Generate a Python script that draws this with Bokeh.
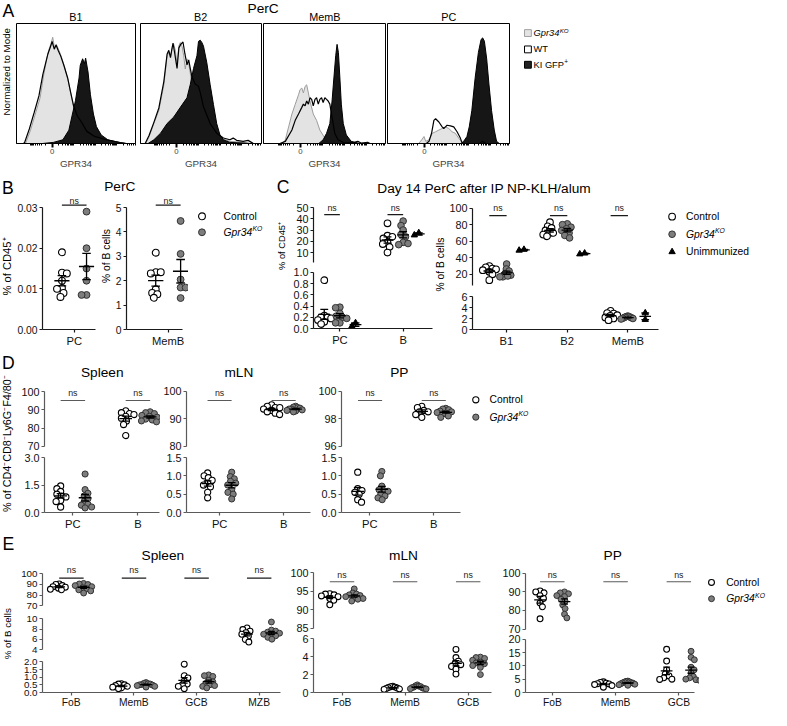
import math
import numpy as np
from bokeh.plotting import figure
from bokeh.models import Range1d, LinearAxis, FixedTicker, Label, PrintfTickFormatter
from bokeh.layouts import row, column
from bokeh.embed import file_html
from bokeh.resources import INLINE
from bokeh.core.properties import value

# ---------------- data ----------------
# Panel A: GPR34 histograms (x: position on GPR34 axis 0-100, y: % of mode scale)
B1_KO_X = [6, 8, 12, 16, 20, 23, 25, 27, 29.5, 30.5, 32, 33.5, 35.5, 37.5, 40, 43, 45.5, 48, 51, 55, 59, 65.5, 76, 87, 92, 96]
B1_KO_Y = [0, 0.8, 11.5, 25, 38.5, 57.5, 68, 77.5, 85, 89, 80, 83, 78.5, 73.5, 65.5, 54.5, 42.5, 30.5, 22.5, 17, 10, 6, 3.5, 1, 0.3, 0]
B1_WT_X = [5, 7, 11, 15, 19, 22.3, 24.5, 26.5, 29, 30, 31.8, 33.3, 35.3, 37.3, 40, 43, 45.5, 48, 51, 55, 59, 65.5, 76, 87, 92, 96]
B1_WT_Y = [0, 1, 12.5, 26, 40, 58, 67, 75, 82, 85.5, 79, 82.5, 77.5, 73, 65, 55, 43, 31.5, 23.5, 17.5, 10.5, 6.3, 3.3, 1.2, 0.4, 0]
B1_GFP_X = [20, 23, 31, 39, 44, 47, 49.5, 52.5, 53.5, 55.5, 57, 58, 60, 62, 64.5, 67, 71, 76.5, 87, 92.5, 96]
B1_GFP_Y = [0, 0.5, 1.3, 3.5, 11.5, 25, 36, 55, 65.5, 71, 67, 71.5, 60, 41, 25, 14.5, 7.5, 3.5, 1, 0.3, 0]

B2_KO_X = [4.5, 7.4, 11.4, 15.5, 19.6, 22.3, 23.7, 25.1, 26.4, 27.8, 29.2, 30.5, 31.9, 33.2, 34.6, 36, 37.3, 38.7, 40.1, 41.4, 42.8, 45.5, 48.2, 52.3, 57.8, 65.9, 74.1, 85, 91.8, 95]
B2_KO_Y = [0, 6, 17, 28, 49, 73.5, 76, 73.5, 79, 83, 77.5, 65.5, 81.5, 84.5, 81.5, 73.5, 62.5, 71, 67, 59, 49, 41, 30.5, 19.5, 11.5, 5, 2.2, 1.3, 0.3, 0]
B2_WT_X = [4, 7.4, 11.4, 15.5, 19.6, 22.3, 23.7, 25.1, 26.4, 27.2, 28.5, 30.5, 32, 33.5, 35.4, 37, 38.7, 40.1, 41.4, 42.8, 45.5, 48.2, 49.6, 52.3, 57.8, 63.2, 68.7, 74.1, 76.8, 79.6, 85, 89.1, 93.2, 96]
B2_WT_Y = [0, 7, 18, 30, 52, 75, 78, 72, 80, 84, 76, 63, 80, 83, 85, 75, 66, 70, 63, 56, 50, 48, 43, 31, 17, 9, 5, 3.5, 4.9, 3, 2.2, 3, 0.5, 0]
B2_GFP_X = [6, 11.4, 16.9, 22.3, 27.8, 33.2, 38.7, 41.4, 44.1, 46.9, 48.2, 49.6, 51, 52.3, 55, 57.8, 60.5, 63.2, 65.9, 68.7, 74.1, 85, 93, 96]
B2_GFP_Y = [0, 3.5, 9, 17, 22.5, 30.5, 38.5, 49.5, 63, 73.5, 85.5, 86.5, 84.5, 81.5, 68, 49.5, 33, 17, 7.5, 3.5, 1.3, 0.8, 0.2, 0]

MB_KO_X = [14.9, 17.6, 20.3, 23, 25.7, 28.4, 29.7, 31.1, 32.4, 33.8, 35.1, 36.5, 37.8, 40.5, 43.2, 45.9, 50, 52.7, 55.4, 58.1]
MB_KO_Y = [0, 3.5, 14.3, 25, 33, 41, 45.3, 46.6, 42.5, 48, 49.3, 42.5, 35.8, 25, 19.7, 11.6, 4.9, 2.2, 0.8, 0]
MB_WT_X = [12.2, 17.6, 23, 25.7, 28.4, 31.1, 32.4, 33.8, 35.1, 36.5, 37.8, 39.2, 40.5, 41.9, 43.2, 44.6, 45.9, 47.3, 48.6, 50, 51.4, 52.7, 54.1, 55.4, 56.8, 58.1, 60.8, 66.2, 74.3, 77, 79.7, 85.1, 87.8]
MB_WT_Y = [0, 2.2, 11.6, 19.7, 25, 30.5, 33.2, 31.8, 35.8, 33.2, 38.5, 37.2, 31.8, 37.2, 38.5, 33.2, 37.2, 38.5, 34.5, 38.5, 37.2, 35.8, 33.2, 25, 17, 9, 3.5, 0.8, 1.3, 2.2, 0.8, 1.3, 0]
MB_GFP_X = [44.6, 48.6, 51.4, 54.1, 55.9, 57.6, 58.9, 60, 61.1, 62.2, 63.5, 65.1, 67.6, 71.6, 77, 82.4]
MB_GFP_Y = [0, 3.5, 8.9, 17, 35.8, 57.4, 73.6, 83, 76.3, 57.4, 33.2, 17, 7.5, 2.2, 0.8, 0]

PC_KO_X = [25.1, 27.8, 29.7, 31.1, 33.8, 36.5, 39.2, 41.9, 44.6, 47.3, 50, 52.7, 55.4, 58.1, 60.8, 63.5]
PC_KO_Y = [0, 3.5, 6.2, 2.2, 3.5, 8.9, 10.2, 11.6, 12.9, 14.3, 12.9, 10.2, 8.9, 4.9, 1.3, 0]
PC_WT_X = [31.1, 33.8, 35.9, 37.8, 39.2, 41.9, 44.6, 45.9, 47.3, 48.6, 51.4, 54.1, 56.8, 59.5, 60.8, 62.2, 75, 77.5, 79.7, 81]
PC_WT_Y = [0, 2.2, 8.9, 19.7, 21, 18.3, 14.3, 12.9, 14.3, 15.6, 15.1, 14.3, 10.2, 4.9, 1.3, 0, 0, 2.2, 1, 0]
PC_GFP_X = [59.5, 62.2, 64.9, 66.8, 68.9, 71.6, 74.3, 76.5, 77.8, 79.2, 81.1, 83, 85.1, 87.3, 89.2, 91.9]
PC_GFP_Y = [0, 2.2, 6.2, 14.3, 27.8, 54.7, 76.3, 87.1, 88.4, 85.7, 70.9, 49.3, 27.8, 11.6, 2.2, 0]

# Panel B: PerC
B_PC_CATS = ["PC"]
B_PC_CTRL = [[0.019, 0.0140, 0.0138, 0.0120, 0.0102, 0.0100, 0.0090, 0.0080]]
B_PC_KO = [[0.029, 0.020, 0.015, 0.012, 0.0085, 0.0085]]
B_MEMB_CATS = ["MemB"]
B_MEMB_CTRL = [[3.15, 2.35, 2.35, 2.3, 1.65, 1.5, 1.45, 1.3]]
B_MEMB_KO = [[4.45, 3.1, 2.05, 1.72, 1.72, 1.29]]

# Panel C: day 14 PerC
C_CD45_CATS = ["PC", "B"]
C_CD45_CTRL = [[0.86, 0.23, 0.2, 0.2, 0.18, 0.15, 0.12, 0.08], [36, 25, 24, 22.5, 19, 17.5, 15, 10]]
C_CD45_KO = [[0.38, 0.37, 0.27, 0.22, 0.2, 0.18, 0.1, 0.1], [38, 34, 30, 26, 24, 19, 18, 17]]
C_CD45_UNIM = [[0.1, 0.04], [25.5, 27.5]]
C_BC_CATS = ["B1", "B2", "MemB"]
C_BC_CTRL = [[30, 28.5, 27, 26, 25, 23, 20, 13], [83, 78, 76, 73, 71, 70, 68, 66], [3.4, 3.0, 2.9, 2.6, 2.5, 2.2, 2.0, 1.7]]
C_BC_KO = [[32.5, 26.5, 24, 21, 19, 17, 17, 18], [81, 80, 77, 75, 73, 70, 67, 64], [2.45, 2.35, 2.3, 2.2, 2.15, 2.05, 2.0, 1.9]]
C_BC_UNIM = [[50, 49], [45.5, 44.5], [3.0, 1.8]]

# Panel D
D_CATS = ["PC", "B"]
D_SPL_CTRL = [[1.45, 1.3, 1.15, 1.0, 0.9, 0.85, 0.65, 0.6, 0.3], [89.5, 88.5, 88, 87.5, 86.5, 85.5, 84, 82, 76]]
D_SPL_KO = [[2.1, 1.25, 1.05, 0.9, 0.75, 0.6, 0.45, 0.4, 0.3, 0.25], [89, 88.5, 88, 87, 86.5, 86, 85, 84.5, 84, 83.5]]
D_MLN_CTRL = [[1.08, 1.0, 0.95, 0.88, 0.8, 0.75, 0.7, 0.55, 0.4], [95, 94.5, 94, 94, 93.5, 93, 92.5, 92, 91.5]]
D_MLN_KO = [[1.1, 0.98, 0.92, 0.85, 0.8, 0.75, 0.62, 0.55, 0.5, 0.37], [94.5, 94.2, 94, 93.8, 93.5, 93.5, 93.2, 93, 92.8, 92.5]]
D_PP_CTRL = [[1.1, 0.65, 0.6, 0.55, 0.5, 0.35, 0.28], [98.9, 98.8, 98.6, 98.5, 98.5, 98.3, 98.1]]
D_PP_KO = [[1.12, 1.0, 0.72, 0.62, 0.6, 0.58, 0.5, 0.45, 0.4, 0.35], [98.75, 98.7, 98.65, 98.55, 98.5, 98.45, 98.4, 98.35, 98.2, 98.1]]

# Panel E
E_SPL_CATS = ["FoB", "MemB", "GCB", "MZB"]
E_SPL_CTRL = [[90.5, 90, 89, 88, 87.5, 86.5, 85.5, 85], [0.58, 0.55, 0.5, 0.45, 0.4, 0.35, 0.3, 0.25],
              [1.85, 1.1, 0.95, 0.75, 0.55, 0.5, 0.4, 0.25], [8.2, 7.9, 7.6, 7.3, 7.0, 6.6, 6.0, 5.5]]
E_SPL_KO = [[91, 90.5, 90, 89, 88, 87, 86, 85, 84, 82], [0.65, 0.6, 0.58, 0.55, 0.52, 0.5, 0.48, 0.45, 0.4, 0.35],
            [1.15, 1.1, 1.05, 0.8, 0.7, 0.6, 0.5, 0.45, 0.4, 0.3], [9.35, 7.8, 7.6, 7.4, 7.2, 7.0, 6.9, 6.7, 6.4, 6.05]]
E_MLN_CATS = ["FoB", "MemB", "GCB"]
E_MLN_CTRL = [[94.3, 94.2, 94, 93.7, 93.5, 93, 92.5, 91.3], [0.7, 0.65, 0.6, 0.55, 0.5, 0.45, 0.4, 0.35],
              [4.8, 3.9, 3.5, 3.2, 3.1, 2.9, 2.6, 2.05]]
E_MLN_KO = [[95.6, 94.5, 94.2, 94, 93.8, 93.5, 93.2, 93, 92.8, 92.3], [0.85, 0.75, 0.7, 0.65, 0.6, 0.55, 0.5, 0.45, 0.42, 0.4],
            [3.95, 3.9, 3.8, 3.6, 3.4, 3.3, 3.2, 3.0, 2.8, 2.0]]
E_PP_CATS = ["FoB", "MemB", "GCB"]
E_PP_CTRL = [[90.5, 90, 89.5, 88, 86.5, 84, 82, 75.5], [4.0, 3.8, 3.5, 3.3, 3.2, 3.0, 2.6, 2.0],
             [16.2, 11.8, 8.5, 7.0, 6.2, 5.5, 5.0, 4.9]]
E_PP_KO = [[90, 89.5, 89, 88, 87.5, 86, 85, 83, 81, 78, 76], [4.3, 4.2, 4.0, 3.9, 3.7, 3.6, 3.5, 3.3, 3.1, 2.9, 2.7],
           [15.5, 13.2, 12.3, 9.5, 8.5, 7.3, 6.0, 5.5, 5.0, 4.8, 4.5]]

# ---------------- helpers ----------------
S = 0.978
FONT = "Liberation Sans"
DARK = "#1a1a1a"
GRAY = "#5a5a5a"


def sc(v):
    return int(round(v * S))


def fs(px):
    return f"{px * S:.1f}px"


def make_fig(cell, frame, xmap, ymap, outline=None):
    x0, y0, x1, y1 = cell
    fl, ft, fr, fb = frame
    W = sc(x1) - sc(x0)
    H = sc(y1) - sc(y0)
    bl = sc(fl) - sc(x0)
    bt = sc(ft) - sc(y0)
    br = sc(x1) - sc(fr)
    bb = sc(y1) - sc(fb)
    (xa, pxa), (xb, pxb) = xmap
    (ya, pya), (yb, pyb) = ymap

    def fx(px):
        return xa + (px - pxa) * (xb - xa) / (pxb - pxa)

    def fy(py):
        return ya + (py - pya) * (yb - ya) / (pyb - pya)

    p = figure(width=W, height=H,
               x_range=Range1d(fx(sc(fl) / S), fx(sc(fr) / S)),
               y_range=Range1d(fy(sc(fb) / S), fy(sc(ft) / S)),
               title=None, output_backend="svg", toolbar_location=None,
               x_axis_location=None, y_axis_location=None,
               min_border_left=bl, min_border_right=br,
               min_border_top=bt, min_border_bottom=bb)
    p.grid.visible = False
    p.outline_line_color = outline
    p.background_fill_color = "white"
    p.border_fill_color = "white"
    return p, fx, fy


def blank(cell):
    return make_fig(cell, cell, ((0.0, 0.0), (1.0, 1.0)), ((0.0, 0.0), (1.0, 1.0)))


def add_text(p, fx, fy, px, py, text, size, align="center", baseline="middle",
             angle=0.0, style="normal", color="black"):
    p.add_layout(Label(x=fx(px), y=fy(py), text=text, text_font=FONT,
                       text_font_size=fs(size), text_align=align, text_baseline=baseline,
                       angle=angle, text_font_style=style, text_color=color))


def gpr_text(p, fx, fy, px, py, size):
    add_text(p, fx, fy, px, py, "Gpr34", size, align="left", style="italic")
    add_text(p, fx, fy, px + 2.779 * size + 0.4, py - size * 0.32, "KO", size * 0.66,
             align="left", style="italic")


def style_axis(ax, color, lsize=11.0, standoff=2):
    ax.axis_line_color = color
    ax.axis_line_width = 1.2
    ax.major_tick_line_color = color
    ax.major_tick_line_width = 1.2
    ax.major_tick_in = 0
    ax.major_tick_out = 3
    ax.minor_tick_line_color = None
    ax.major_label_text_font = FONT
    ax.major_label_text_font_size = fs(lsize)
    ax.major_label_text_color = "#111111"
    ax.major_label_standoff = standoff


def swarm(ys, d, lim):
    n = len(ys)
    order = sorted(range(n), key=lambda j: -ys[j])
    placed = []
    out = [0.0] * n
    for k, j in enumerate(order):
        y = ys[j]
        cands = [0.0]
        for (px, py) in placed:
            dy = abs(py - y)
            if dy < d:
                dx = math.sqrt(d * d - dy * dy)
                cands.extend([px - dx, px + dx])
        sign = 1 if k % 2 else -1
        cands.sort(key=lambda c: (round(abs(c), 6), c * sign))
        for c in cands:
            if all((c - px) ** 2 + (y - py) ** 2 >= d * d - 1e-6 for (px, py) in placed):
                out[j] = c
                placed.append((c, y))
                break
    m = max(abs(o) for o in out)
    if m > lim:
        out = [o * lim / m for o in out]
    return out


CTRL = dict(marker="circle", fill_color="white", line_color="black", line_width=1.1)
KO = dict(marker="circle", fill_color="#7d7d7d", line_color="#333333", line_width=1.0)
UNIM = dict(marker="triangle", fill_color="black", line_color="black", line_width=1.0)

HIST_MINOR = []
for _base, _dir in [(30, -1), (30, 1), (48, 1), (66, 1), (84, 1)]:
    HIST_MINOR += [_base + _dir * 18 * math.log10(k) for k in range(2, 10)]
HIST_MINOR += [12, 48, 66, 84]
HIST_MINOR = sorted(t for t in HIST_MINOR if 0 < t < 100 and abs(t - 30) > 0.1)


def hist_fig(cell, frame, ko, wt, gfp):
    fl, ft, fr, fb = frame
    p, fx, fy = make_fig(cell, frame, ((0.0, fl), (100.0, fr)), ((0.0, fb), (100.0, ft)),
                         outline="black")
    p.outline_line_width = 1
    p.varea(x=ko[0], y1=[0] * len(ko[0]), y2=ko[1], fill_color="#e3e3e3")
    p.line(x=ko[0], y=ko[1], line_color="#9c9c9c", line_width=1)
    p.varea(x=gfp[0], y1=[0] * len(gfp[0]), y2=gfp[1], fill_color="#161616")
    p.line(x=gfp[0], y=gfp[1], line_color="black", line_width=1)
    p.line(x=wt[0], y=wt[1], line_color="black", line_width=1.2)
    ax = LinearAxis(ticker=FixedTicker(ticks=[30], minor_ticks=HIST_MINOR),
                    major_label_overrides={30: "0"}, axis_label="GPR34")
    ax.axis_line_color = "black"
    ax.major_tick_in = 0
    ax.major_tick_out = 4
    ax.major_tick_line_width = 2
    ax.minor_tick_in = 0
    ax.minor_tick_out = 2
    ax.minor_tick_line_color = "black"
    ax.major_label_text_font = FONT
    ax.major_label_text_font_size = fs(8)
    ax.major_label_standoff = 1
    ax.axis_label_text_font = FONT
    ax.axis_label_text_font_size = fs(10)
    ax.axis_label_text_font_style = "normal"
    ax.axis_label_standoff = 1
    p.add_layout(ax, "below")
    return p


def dot_panel(xcell, axis_px, end_px, cats, c0, dc, groups, segs, color, bcolor,
              bracket_py, ns_py, size, hw, cw, lim, xlab=11.5, xstand=2, ylab=11.0):
    xmap = ((0.0, c0), (1.0, c0 + dc))
    out = []
    for k, sg in enumerate(segs):
        fb = sg["axis"] if sg.get("axis") is not None else sg["y1"]
        p, fx, fy = make_fig((xcell[0], sg["y0"], xcell[1], sg["y1"]),
                             (axis_px, sg["y0"], xcell[1], fb), xmap, sg["map"])
        ya = LinearAxis(ticker=FixedTicker(ticks=sg["ticks"]),
                        formatter=PrintfTickFormatter(format=sg["fmt"]), bounds=sg["bounds"])
        style_axis(ya, color, ylab)
        p.add_layout(ya, "left")
        if sg.get("axis") is not None:
            p.y_range.start = sg["bounds"][0]
            p.x_range.start = fx(axis_px)
            xa = LinearAxis(ticker=FixedTicker(ticks=list(range(len(cats)))),
                            major_label_overrides={i: c for i, c in enumerate(cats)},
                            bounds=(fx(axis_px), fx(end_px)))
            style_axis(xa, color, xlab, xstand)
            p.add_layout(xa, "below")
        (v1, p1), (v2, p2) = sg["map"]
        ky = (p2 - p1) / (v1 - v2)
        for ci in sg["cats"]:
            for (style, off, data) in groups:
                vals = data[ci]
                offs = swarm([v * ky for v in vals], size * 0.75, lim)
                xs = [ci + (off + o) / dc for o in offs]
                sz = size * S * (0.95 if style["marker"] == "triangle" else 1.0)
                p.scatter(x=xs, y=vals, size=sz, **style)
            for (style, off, data) in groups:
                vals = np.array(data[ci], dtype=float)
                m = float(vals.mean())
                se = float(vals.std(ddof=1) / math.sqrt(len(vals)))
                xc = ci + off / dc
                p.segment(x0=[xc - hw / dc, xc, xc - cw / dc, xc - cw / dc],
                          y0=[m, m - se, m - se, m + se],
                          x1=[xc + hw / dc, xc, xc + cw / dc, xc + cw / dc],
                          y1=[m, m + se, m - se, m + se],
                          line_color="black", line_width=1.3)
        if k == 0:
            n = len(cats)
            bx0 = [i + groups[0][1] / dc for i in range(n)]
            bx1 = [i + groups[1][1] / dc for i in range(n)]
            by = fy(bracket_py)
            p.segment(x0=bx0, y0=[by] * n, x1=bx1, y1=[by] * n, line_color=bcolor, line_width=1.2)
            p.text(x=[(a + b) / 2 for a, b in zip(bx0, bx1)], y=[fy(ns_py)] * n, text=["ns"] * n,
                   text_font=value(FONT), text_font_size=value(fs(9)), text_align="center",
                   text_baseline="middle", text_color="#222222")
        out.append((p, fx, fy))
    return out


def legend_fig(cell, items, mx, tx, size, font):
    p, fx, fy = blank(cell)
    for (style, py, text) in items:
        sz = size * S * (0.95 if style["marker"] == "triangle" else 1.0)
        p.scatter(x=[fx(mx)], y=[fy(py)], size=sz, **style)
        if text == "KO":
            gpr_text(p, fx, fy, tx, py, font)
        else:
            add_text(p, fx, fy, tx, py, text, font, align="left")
    return p


# ---------------- Band A ----------------
hA, fxh, fyh = blank((0, 0, 522, 23))
add_text(hA, fxh, fyh, 8, 10.5, "A", 18)
add_text(hA, fxh, fyh, 268.5, 8.5, "PerC", 14)
for _t, _x in [("B1", 77), ("B2", 204.7), ("MemB", 331.7), ("PC", 458.3)]:
    add_text(hA, fxh, fyh, _x, 16.5, _t, 11)
sA, fxs, fys = blank((0, 23, 14, 178))
add_text(sA, fxs, fys, 6, 85, "Normalized to Mode", 10, angle=math.pi / 2)
pA1 = hist_fig((14, 23, 140.5, 178), (16, 24, 138.5, 146.7),
               (B1_KO_X, B1_KO_Y), (B1_WT_X, B1_WT_Y), (B1_GFP_X, B1_GFP_Y))
pA2 = hist_fig((140.5, 23, 268, 178), (142.7, 24, 266.7, 146.7),
               (B2_KO_X, B2_KO_Y), (B2_WT_X, B2_WT_Y), (B2_GFP_X, B2_GFP_Y))
pA3 = hist_fig((268, 23, 395, 178), (269.3, 24, 394, 146.7),
               (MB_KO_X, MB_KO_Y), (MB_WT_X, MB_WT_Y), (MB_GFP_X, MB_GFP_Y))
pA4 = hist_fig((395, 23, 522, 178), (396, 24, 520.7, 146.7),
               (PC_KO_X, PC_KO_Y), (PC_WT_X, PC_WT_Y), (PC_GFP_X, PC_GFP_Y))
pAL, fxL, fyL = blank((522, 0, 787, 178))
pAL.scatter(x=[539.3] * 3, y=[33.3, 50, 65.7], marker="square", size=7 * S,
            fill_color=["#e3e3e3", "white", "#222222"], line_color=["#a0a0a0", "black", "black"],
            line_width=1)
gpr_text(pAL, fxL, fyL, 545, 33.3, 9.5)
add_text(pAL, fxL, fyL, 545, 50, "WT", 9.5, align="left")
add_text(pAL, fxL, fyL, 545, 65.7, "KI GFP", 9.5, align="left")
add_text(pAL, fxL, fyL, 545 + 3.279 * 9.5 + 0.4, 62.6, "+", 6.5, align="left")
bandA = row(column(hA, row(sA, pA1, pA2, pA3, pA4)), pAL)

# ---------------- Band B ----------------
sB, fxb, fyb = blank((0, 178, 14, 358))
add_text(sB, fxb, fyb, 7.5, 192, "B", 18)
add_text(sB, fxb, fyb, 7, 272, "% of CD45\u207a", 11.5, angle=math.pi / 2)
hB, fxhb, fyhb = blank((14, 178, 192, 199))
add_text(hB, fxhb, fyhb, 122, 190.5, "PerC", 14)
bPC = dot_panel((14, 102), 41, 97, B_PC_CATS, 74.5, 60.0,
                [(CTRL, -13, B_PC_CTRL), (KO, 13, B_PC_KO)],
                [dict(y0=199, y1=358, axis=336, map=((0.03, 211.7), (0.0, 336.0)), bounds=(0, 0.03),
                      ticks=[0, 0.01, 0.02, 0.03], fmt="%.2f", cats=[0])],
                DARK, DARK, 209.3, 204.5, 7.0, 8.0, 4.5, 10, ylab=10.5)
sB2, fxb2, fyb2 = blank((102, 199, 115, 358))
add_text(sB2, fxb2, fyb2, 108.5, 271, "% of B cells", 10.5, angle=math.pi / 2)
bMB = dot_panel((115, 192), 127.5, 186, B_MEMB_CATS, 171, 60.0,
                [(CTRL, -13, B_MEMB_CTRL), (KO, 13, B_MEMB_KO)],
                [dict(y0=199, y1=358, axis=336, map=((5, 211.7), (0.0, 336.0)), bounds=(0, 5),
                      ticks=[0, 1, 2, 3, 4, 5], fmt="%d", cats=[0])],
                DARK, DARK, 209.3, 204.5, 7.0, 8.0, 4.5, 10, ylab=10.5)
bLeg = legend_fig((192, 178, 280, 358), [(CTRL, 220.7, "Control"), (KO, 237, "KO")], 206, 228, 7.0, 10.5)
bandB = row(sB, column(hB, row(bPC[0][0], sB2, bMB[0][0])), bLeg)

# ---------------- Band C ----------------
hC, fxC, fyC = blank((280, 178, 787, 202))
add_text(hC, fxC, fyC, 289, 191, "C", 18)
add_text(hC, fxC, fyC, 494.5, 192, "Day 14 PerC after IP NP-KLH/alum", 14)
sCL, fxcl, fycl = blank((280, 202, 295, 358))
add_text(sCL, fxcl, fycl, 288.3, 251, "% of CD45\u207a", 9.5, angle=math.pi / 2)
cL = dot_panel((295, 443), 320, 441.7, C_CD45_CATS, 347, 64.7,
               [(CTRL, -16, C_CD45_CTRL), (KO, 0, C_CD45_KO), (UNIM, 16, C_CD45_UNIM)],
               [dict(y0=202, y1=273, axis=None, map=((50, 211.7), (10, 257.7)), bounds=(1, 50),
                     ticks=[10, 20, 30, 40, 50], fmt="%d", cats=[1]),
                dict(y0=273, y1=358, axis=335.7, map=((1.0, 278.0), (0.0, 335.7)), bounds=(0, 1.0),
                     ticks=[0, 0.2, 0.4, 0.6, 0.8, 1.0], fmt="%.1f", cats=[0])],
               DARK, DARK, 219, 212, 6.8, 6.0, 4.0, 7)
sCR, fxcr, fycr = blank((443, 202, 456, 358))
add_text(sCR, fxcr, fycr, 449.5, 270, "% of B cells", 10.5, angle=math.pi / 2)
cR = dot_panel((456, 678), 480, 673, C_BC_CATS, 515, 63.0,
               [(CTRL, -18, C_BC_CTRL), (KO, 0, C_BC_KO), (UNIM, 18, C_BC_UNIM)],
               [dict(y0=202, y1=298, axis=None, map=((100, 212.3), (20, 280.0)), bounds=(6, 100),
                     ticks=[20, 40, 60, 80, 100], fmt="%d", cats=[0, 1]),
                dict(y0=298, y1=358, axis=336.7, map=((6, 302.7), (0, 336.7)), bounds=(0, 6),
                     ticks=[0, 2, 4, 6], fmt="%d", cats=[2])],
               DARK, DARK, 220, 212.5, 6.8, 6.0, 4.0, 7)
cLeg = legend_fig((678, 202, 787, 358),
                  [(CTRL, 221, "Control"), (KO, 239, "KO"), (UNIM, 257, "Unimmunized")],
                  686.7, 701, 6.8, 10.5)
bandC = column(hC, row(sCL, column(*[t[0] for t in cL]), sCR, column(*[t[0] for t in cR]), cLeg))
bandBC = row(bandB, bandC)

# ---------------- Band D ----------------
dStrip, fxD, fyD = blank((0, 358, 16, 544))
add_text(dStrip, fxD, fyD, 8, 371, "D", 18)
add_text(dStrip, fxD, fyD, 6.5, 453, "% of CD4\u207bCD8\u207bLy6G\u207bF4/80\u207b", 11, angle=math.pi / 2)


def d_segs(top_map, top_bounds, top_ticks, bot_map, bot_bounds, bot_ticks):
    return [dict(y0=358, y1=461.6, axis=None, map=top_map, bounds=top_bounds, ticks=top_ticks,
                 fmt="%d", cats=[1]),
            dict(y0=461.6, y1=544, axis=523.3, map=bot_map, bounds=bot_bounds, ticks=bot_ticks,
                 fmt="%.1f", cats=[0])]


dS = dot_panel((16, 164), 45, 163, D_CATS, 74, 66.5,
               [(CTRL, -12.5, D_SPL_CTRL), (KO, 12.5, D_SPL_KO)],
               d_segs(((100, 400.0), (70, 456.0)), (70, 100), [70, 80, 90, 100],
                      ((3.0, 467.3), (0.0, 523.3)), (0, 3), [0, 1.5, 3.0]),
               GRAY, GRAY, 409, 401.5, 6.3, 6.5, 4.0, 9)
p, fx, fy = dS[0]
add_text(p, fx, fy, 104, 380, "Spleen", 14)
dM = dot_panel((164, 322), 188, 317, D_CATS, 222.5, 66.5,
               [(CTRL, -12.5, D_MLN_CTRL), (KO, 12.5, D_MLN_KO)],
               d_segs(((100, 399.3), (80, 456.0)), (80, 100), [80, 90, 100],
                      ((1.5, 467.3), (0.0, 523.3)), (0, 1.5), [0, 0.5, 1.0, 1.5]),
               GRAY, GRAY, 409, 401.5, 6.3, 6.5, 4.0, 9)
p, fx, fy = dM[0]
add_text(p, fx, fy, 242.5, 380, "mLN", 14)
dP = dot_panel((322, 478), 347, 470.7, D_CATS, 376.3, 66.2,
               [(CTRL, -12.5, D_PP_CTRL), (KO, 12.5, D_PP_KO)],
               d_segs(((100, 399.3), (96, 456.0)), (96, 100), [96, 98, 100],
                      ((1.5, 467.3), (0.0, 523.3)), (0, 1.5), [0, 0.5, 1.0, 1.5]),
               GRAY, GRAY, 409, 401.5, 6.3, 6.5, 4.0, 9)
p, fx, fy = dP[0]
add_text(p, fx, fy, 406.7, 380, "PP", 14)
dLeg = legend_fig((478, 358, 787, 544), [(CTRL, 408.3, "Control"), (KO, 426, "KO")], 486, 500, 6.3, 10.5)
bandD = row(dStrip, column(*[t[0] for t in dS]), column(*[t[0] for t in dM]),
            column(*[t[0] for t in dP]), dLeg)

# ---------------- Band E ----------------
eStrip, fxE, fyE = blank((0, 544, 16, 726))
add_text(eStrip, fxE, fyE, 8, 556, "E", 18)
add_text(eStrip, fxE, fyE, 7, 647.5, "% of B cells", 10, angle=math.pi / 2)
eS = dot_panel((16, 292), 43.3, 286.7, E_SPL_CATS, 72.5, 64.0,
               [(CTRL, -12.5, E_SPL_CTRL), (KO, 12.5, E_SPL_KO)],
               [dict(y0=544, y1=625.5, axis=None, map=((100, 586.2), (70, 619.0)), bounds=(70, 100),
                     ticks=[70, 80, 90, 100], fmt="%d", cats=[0]),
                dict(y0=625.5, y1=670.5, axis=None, map=((10, 632.0), (4, 664.0)), bounds=(4, 10),
                     ticks=[4, 6, 8, 10], fmt="%d", cats=[3]),
                dict(y0=670.5, y1=726, axis=709.3, map=((2.0, 676.5), (0.0, 709.3)), bounds=(0, 2),
                     ticks=[0, 0.5, 1.0, 1.5, 2.0], fmt="%.1f", cats=[1, 2])],
               GRAY, DARK, 590.7, 582.5, 6.0, 6.0, 3.5, 9, xlab=10.5, xstand=1, ylab=10.0)
p, fx, fy = eS[0]
add_text(p, fx, fy, 166, 567.5, "Spleen", 14)
eM = dot_panel((292, 508), 320, 502, E_MLN_CATS, 349.2, 64.5,
               [(CTRL, -12.5, E_MLN_CTRL), (KO, 12.5, E_MLN_KO)],
               [dict(y0=544, y1=647.2, axis=None, map=((100, 585.0), (85, 641.7)), bounds=(85, 100),
                     ticks=[85, 90, 95, 100], fmt="%d", cats=[0]),
                dict(y0=647.2, y1=726, axis=709.3, map=((6, 652.7), (0, 709.3)), bounds=(0, 6),
                     ticks=[0, 2, 4, 6], fmt="%d", cats=[1, 2])],
               GRAY, GRAY, 594.3, 587, 6.0, 6.0, 3.5, 9, xlab=10.5, xstand=1)
p, fx, fy = eM[0]
add_text(p, fx, fy, 412, 567.5, "mLN", 14)
eP = dot_panel((508, 715), 536.7, 710, E_PP_CATS, 564.2, 64.7,
               [(CTRL, -12.5, E_PP_CTRL), (KO, 12.5, E_PP_KO)],
               [dict(y0=544, y1=648, axis=None, map=((100, 585.7), (70, 642.7)), bounds=(70, 100),
                     ticks=[70, 80, 90, 100], fmt="%d", cats=[0]),
                dict(y0=648, y1=726, axis=710, map=((20, 653.3), (0, 710.0)), bounds=(0, 20),
                     ticks=[0, 5, 10, 15, 20], fmt="%d", cats=[1, 2])],
               GRAY, GRAY, 594.3, 587, 6.0, 6.0, 3.5, 9, xlab=10.5, xstand=1)
p, fx, fy = eP[0]
add_text(p, fx, fy, 626, 567.5, "PP", 14)
eLeg = legend_fig((715, 544, 787, 726), [(CTRL, 595, "Control"), (KO, 611.7, "KO")], 727, 742, 6.0, 10.5)
bandE = row(eStrip, column(*[t[0] for t in eS]), column(*[t[0] for t in eM]),
            column(*[t[0] for t in eP]), eLeg)

layout = column(bandA, bandBC, bandD, bandE)
open("out.html", "w").write(file_html(layout, INLINE))
